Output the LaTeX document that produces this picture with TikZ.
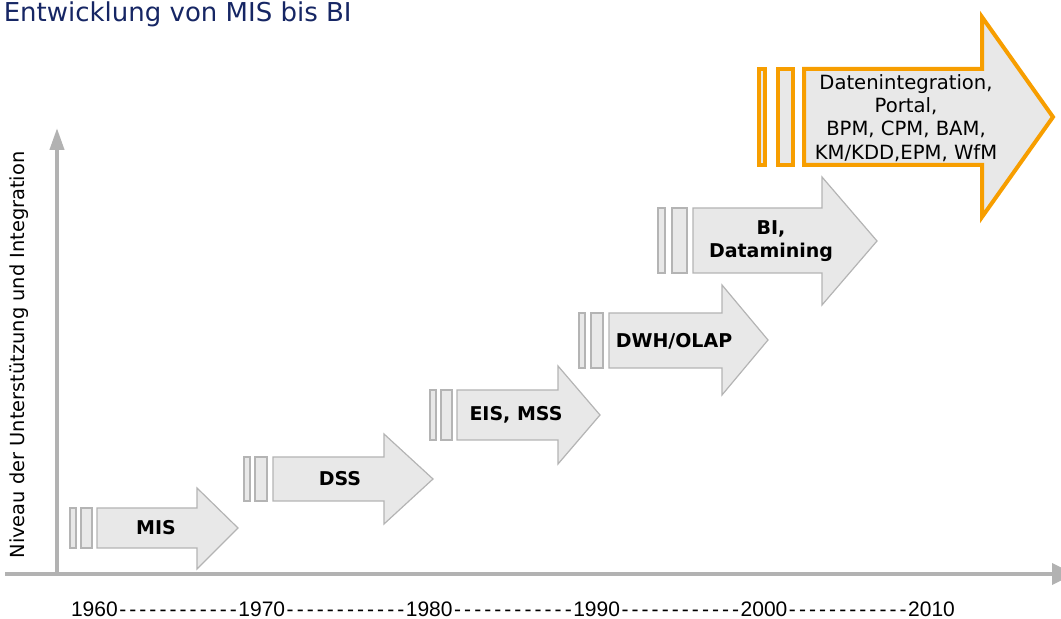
\documentclass[tikz,border=0pt]{standalone}
\usepackage{fontspec}
\setmainfont{DejaVu Sans}
\newfontfamily\yearfont{Liberation Sans}
\usepackage{xcolor}
\usepackage{tikz}
\usetikzlibrary{arrows.meta}

\definecolor{axisgray}{RGB}{178,178,178}
\definecolor{stepfill}{RGB}{232,232,232}
\definecolor{stepline}{RGB}{180,180,180}
\definecolor{hiorange}{RGB}{247,158,0}
\definecolor{titleblue}{RGB}{22,38,100}

% one hyphen of the time line, and a run of twelve of them
\newcommand{\hy}{\makebox[5.03pt][c]{-}}
\newcommand{\dashgap}{\hy\hy\hy\hy\hy\hy\hy\hy\hy\hy\hy\hy}

\tikzset{
  axisline/.style={draw=axisgray, line width=2pt},
  stepshape/.style={fill=stepfill, draw=stepline, line width=0.6pt, line join=miter},
  hishape/.style={fill=stepfill, draw=hiorange, line width=2pt, line join=miter},
  steplabel/.style={font=\fontsize{9.5}{11.5}\selectfont\bfseries, align=center, inner sep=0pt},
  hilabel/.style={font=\fontsize{9.8}{11.6}\selectfont, align=center, inner sep=0pt},
}

\begin{document}
\begin{tikzpicture}[x=0.5pt, y=-0.5pt]
      \path[use as bounding box] (0,0) rectangle (1061,619);

      % --- title, top left ---
      \node[titleblue, anchor=base east, inner sep=0pt, font=\fontsize{13}{15}\selectfont] (title) at (352,22) {Entwicklung von MIS bis BI};

      % --- axes (drawn first, arrows sit on top) ---
      \coordinate (origin) at (57,574);
      \coordinate (ytip) at (57,128);
      \coordinate (xstart) at (5,574);
      \coordinate (xtip) at (1074,574);
      \draw[axisline, -{Triangle[length=11pt, width=7pt]}] (origin) -- (ytip);
      \draw[axisline, -{Triangle[length=11pt, width=10.5pt]}] (xstart) -- (xtip);

      \node[rotate=90, inner sep=0pt, font=\fontsize{9.7}{11}\selectfont] (ylabel) at (19,355) {Niveau der Unterstützung und Integration};
      \node[inner sep=0pt, font=\yearfont\fontsize{10.5}{12}\selectfont] (years) at (513,609) {1960\dashgap 1970\dashgap 1980\dashgap 1990\dashgap 2000\dashgap 2010};

      % --- MIS ---
      \draw[stepshape] (70,508) rectangle (76,548);
      \draw[stepshape] (81,508) rectangle (92,548);
      \draw[stepshape] (97,508) -- (197,508) -- (197,488) -- (238,528) -- (197,569) -- (197,548) -- (97,548) -- cycle;
      \node[steplabel] (mis) at (156,528) {MIS};

      % --- DSS ---
      \draw[stepshape] (244,457) rectangle (250,501);
      \draw[stepshape] (255,457) rectangle (267,501);
      \draw[stepshape] (273,457) -- (384,457) -- (384,434) -- (433,479) -- (384,524) -- (384,501) -- (273,501) -- cycle;
      \node[steplabel] (dss) at (340,479) {DSS};

      % --- EIS, MSS ---
      \draw[stepshape] (430,390) rectangle (436,440);
      \draw[stepshape] (441,390) rectangle (452,440);
      \draw[stepshape] (457,390) -- (558,390) -- (558,366) -- (600,415) -- (558,464) -- (558,440) -- (457,440) -- cycle;
      \node[steplabel] (eis) at (516,415) {EIS, MSS};

      % --- DWH/OLAP ---
      \draw[stepshape] (579,313) rectangle (585,368);
      \draw[stepshape] (591,313) rectangle (603,368);
      \draw[stepshape] (609,313) -- (722,313) -- (722,285) -- (768,340) -- (722,395) -- (722,368) -- (609,368) -- cycle;
      \node[steplabel] (dwh) at (674,341) {DWH/OLAP};

      % --- BI, Datamining ---
      \draw[stepshape] (658,208) rectangle (665,273);
      \draw[stepshape] (672,208) rectangle (687,273);
      \draw[stepshape] (693,208) -- (822,208) -- (822,177) -- (877,241) -- (822,305) -- (822,273) -- (693,273) -- cycle;
      \node[steplabel] (bi) at (771,241) {BI,\\Datamining};

      % --- outlook, orange outline ---
      \draw[hishape] (759,69) rectangle (765,165);
      \draw[hishape] (778,69) rectangle (793,165);
      \draw[hishape] (804,69) -- (982,69) -- (982,17) -- (1053,117) -- (982,217) -- (982,165) -- (804,165) -- cycle;
      \node[hilabel] (outlook) at (906,118) {Datenintegration,\\Portal,\\BPM, CPM, BAM,\\KM/KDD,EPM, WfM};
    \end{tikzpicture}
\end{document}
